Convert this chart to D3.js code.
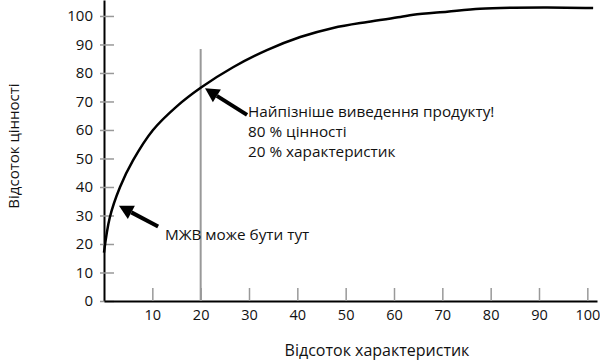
<!DOCTYPE html>
<html>
<head>
<meta charset="utf-8">
<script src="https://cdn.jsdelivr.net/npm/d3@7"></script>
<style>
  body { margin: 0; background: #fff; }
  svg text { font-family: "Open Sans", sans-serif; fill: #111; }
</style>
</head>
<body>
<svg id="chart" width="600" height="363"></svg>
<script>
// values: % of features vs % of value
const featurePct = [0, 1.2, 3.3, 6, 10.1, 15, 20, 26.7, 33.7, 40.6, 47.4, 54.5, 61.3, 64, 71, 77.8, 84.7, 91.7, 101.2];
const valuePct   = [17, 29.3, 39.9, 49.3, 59.9, 68.2, 74.8, 82, 88, 92.6, 95.8, 97.9, 99.6, 100.4, 101.5, 102.5, 102.9, 103, 102.8];

const xTicks = [10, 20, 30, 40, 50, 60, 70, 80, 90, 100];
const yTicks = [0, 10, 20, 30, 40, 50, 60, 70, 80, 90, 100];

const xTitle = "Відсоток характеристик";
const yTitle = "Відсоток цінності";

const cutoffX = 20;      // vertical marker
const cutoffTop = 88.4;  // where the marker stops

const note1Lines = ["Найпізніше виведення продукту!", "80 % цінності", "20 % характеристик"];
const note2Lines = ["МЖВ може бути тут"];
// arrows: [tailX, tailY, tipX, tipY] in data units
const arrow1 = [29.6, 65.3, 20.9, 74.6];
const arrow2 = [11.2, 26.1, 3.1, 33.4];

const svg = d3.select("#chart");

const x = d3.scaleLinear().domain([0, 102]).range([104, 597]);
const y = d3.scaleLinear().domain([0, 105.6]).range([301, 0]);

// y axis
const yAxis = svg.append("g")
    .attr("transform", "translate(" + x(0) + ",0)")
    .call(d3.axisLeft(y).tickValues(yTicks).tickSize(0).tickSizeOuter(0).tickPadding(11));
yAxis.select(".domain").attr("stroke", "#000").attr("stroke-width", 2);
yAxis.selectAll(".tick line").attr("x1", -4).attr("x2", 10).attr("stroke", "#999").attr("stroke-width", 1.5);
yAxis.selectAll(".tick text").attr("font-size", 15).attr("font-family", null);

// x axis
const xAxis = svg.append("g")
    .attr("transform", "translate(0," + y(0) + ")")
    .call(d3.axisBottom(x).tickValues(xTicks).tickSize(0).tickSizeOuter(0));
xAxis.select(".domain").attr("stroke", "#000").attr("stroke-width", 2);
xAxis.selectAll(".tick line").attr("y1", -13).attr("y2", 0).attr("stroke", "#999").attr("stroke-width", 1.5);
xAxis.selectAll(".tick text").attr("font-size", 14.5).attr("font-family", null)
    .attr("y", 19).attr("dy", null);

// titles
svg.append("text")
    .attr("x", 377).attr("y", 356)
    .attr("text-anchor", "middle").attr("font-size", 16)
    .text(xTitle);
svg.append("text")
    .attr("transform", "translate(19,146) rotate(-90)")
    .attr("text-anchor", "middle").attr("font-size", 15)
    .text(yTitle);

// 20% marker
svg.append("line")
    .attr("x1", x(cutoffX)).attr("x2", x(cutoffX))
    .attr("y1", y(0)).attr("y2", y(cutoffTop))
    .attr("stroke", "#999").attr("stroke-width", 2);

// value curve
const line = d3.line()
    .x((d, i) => x(featurePct[i]))
    .y((d, i) => y(valuePct[i]))
    .curve(d3.curveCatmullRom.alpha(0.5));
svg.append("path")
    .attr("d", line(featurePct))
    .attr("fill", "none").attr("stroke", "#000").attr("stroke-width", 2.5);

function drawArrow(a) {
    const x0 = x(a[0]), y0 = y(a[1]), x1 = x(a[2]), y1 = y(a[3]);
    const ang = Math.atan2(y1 - y0, x1 - x0);
    const headLen = 14, headW = 7.5;
    const bx = x1 - headLen * Math.cos(ang), by = y1 - headLen * Math.sin(ang);
    svg.append("line")
        .attr("x1", x0).attr("y1", y0).attr("x2", bx).attr("y2", by)
        .attr("stroke", "#000").attr("stroke-width", 4);
    const px = -Math.sin(ang) * headW, py = Math.cos(ang) * headW;
    svg.append("path")
        .attr("d", "M" + x1 + "," + y1 + "L" + (bx + px) + "," + (by + py) +
            "L" + (bx - px) + "," + (by - py) + "Z")
        .attr("fill", "#000");
}
drawArrow(arrow1);
drawArrow(arrow2);

function drawNote(lines, dx, dy) {
    const t = svg.append("text")
        .attr("x", x(dx)).attr("y", y(dy)).attr("font-size", 15.3);
    t.selectAll("tspan").data(lines).join("tspan")
        .attr("x", x(dx)).attr("dy", (d, i) => i === 0 ? 0 : 20)
        .text(d => d);
}
drawNote(note1Lines, 29.8, 64.5);
drawNote(note2Lines, 12.6, 21.4);
</script>
</body>
</html>
